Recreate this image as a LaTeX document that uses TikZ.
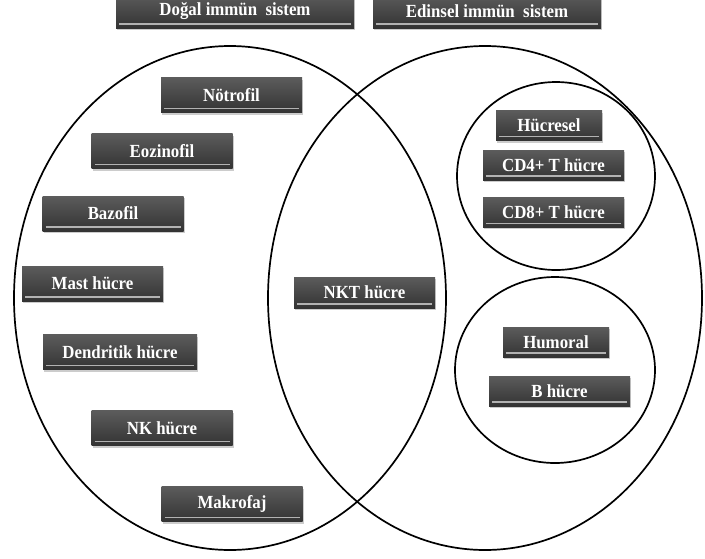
\documentclass[tikz,border=0pt]{standalone}
\usepackage{fontspec}
\setmainfont{Liberation Serif}[FakeStretch=0.91]
\usetikzlibrary{positioning,shadows}

\begin{document}
\begin{tikzpicture}[x=1pt, y=-1pt, node distance=10pt,
	cellbox/.style={rectangle, top color=black!64, bottom color=black!80, text=white,
		font=\bfseries\fontsize{18.5}{21}\selectfont, inner sep=0pt,
		minimum width=141pt, minimum height=35pt,
		drop shadow={shadow xshift=1pt, shadow yshift=-2pt, opacity=0.4},
		path picture={\draw[black!30, line width=1.3pt]
			([xshift=3pt, yshift=4pt]path picture bounding box.south west) --
			([xshift=-3pt, yshift=4pt]path picture bounding box.south east);}},
	smallbox/.style={cellbox, minimum height=30pt},
	ring/.style={draw=black, line width=1.7pt}]
	\useasboundingbox (0,0) rectangle (705,558);
	% the two sets and the two subsets
	\draw[ring] (230,298) ellipse [x radius=216, y radius=252];
	\draw[ring] (485,298) ellipse [x radius=217, y radius=252];
	\draw[ring] (556,176) ellipse [x radius=99, y radius=94];
	\draw[ring] (555,370) ellipse [x radius=100, y radius=93];
	% titles
	\node[cellbox, minimum width=238pt, minimum height=34pt] (dogal) at (235,11) {Doğal immün\ \ sistem};
	\node[cellbox, minimum width=228pt, minimum height=34pt] (edinsel) at (487,11) {Edinsel immün\ \ sistem};
	% innate cells
	\node[cellbox] (notrofil) at (231.5,95) {Nötrofil};
	\node[cellbox] (eozinofil) at (162,151) {Eozinofil};
	\node[cellbox] (bazofil) at (113,213.5) {Bazofil};
	\node[cellbox] (mast) at (92.5,283.5) {Mast hücre};
	\node[cellbox, minimum width=154pt] (dendritik) at (120,352) {Dendritik hücre};
	\node[cellbox] (nk) at (162,428) {NK hücre};
	\node[cellbox] (makrofaj) at (232,504) {Makrofaj};
	% shared
	\node[smallbox, minimum height=31pt] (nkt) at (364.5,292.5) {NKT hücre};
	% adaptive cells
	\node[smallbox, minimum width=106pt] (hucresel) at (549,125.5) {Hücresel};
	\node[smallbox] (cdfour) at (553.5,165) {CD4+ T hücre};
	\node[smallbox] (cdeight) [below=17pt of cdfour] {CD8+ T hücre};
	\node[smallbox, minimum width=106pt] (humoral) at (556,342) {Humoral};
	\node[smallbox] (bcell) at (559.5,391) {B hücre};
\end{tikzpicture}
\end{document}
